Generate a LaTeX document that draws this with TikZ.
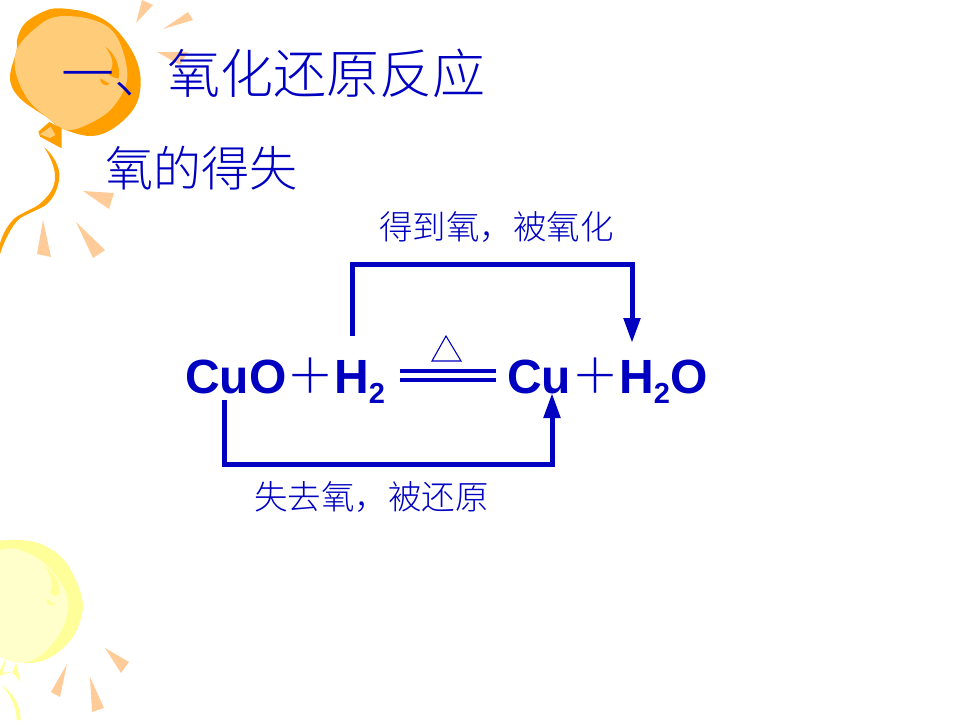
\documentclass[tikz,border=0pt]{standalone}
\usepackage{fontspec}
\setmainfont{Liberation Sans}
\newfontfamily\cjkthin{Noto Sans CJK SC Light}
\usetikzlibrary{arrows.meta}
\definecolor{ink}{HTML}{0000C0}
\definecolor{orangedark}{HTML}{FF9F00}
\definecolor{orangelight}{HTML}{FFCC7A}
\definecolor{ray}{HTML}{FFCC99}
\definecolor{yellowdark}{HTML}{FFFF99}
\definecolor{yellowlight}{HTML}{FFFFCC}
\tikzset{
  x=1pt,y=-1pt,
  titletext/.style={anchor=base west,inner sep=0,text=ink,font=\cjkthin\fontsize{53}{53}\selectfont},
  subtitletext/.style={anchor=base west,inner sep=0,text=ink,font=\cjkthin\fontsize{48}{48}\selectfont},
  notetext/.style={anchor=base west,inner sep=0,text=ink,font=\cjkthin\fontsize{33.5}{33.5}\selectfont},
  formula/.style={anchor=base west,inner sep=0,text=ink,font=\bfseries\fontsize{48}{48}\selectfont},
  plussign/.style={anchor=base west,inner sep=0,text=ink,font=\cjkthin\fontsize{48}{48}\selectfont},
  bracket/.style={draw=ink,line width=5pt,line join=miter,-{Triangle[length=25pt,width=16pt]}},
  bond/.style={draw=ink,line width=4.5pt},
  burst/.style={fill=ray,draw=none},
  fine/.style={x=0.33333pt,y=-0.33333pt}
}
\newcommand{\subtwo}{\raisebox{-10pt}{\fontsize{29}{29}\selectfont 2}}
\begin{document}
\begin{tikzpicture}
\useasboundingbox (0,0) rectangle (960,720);
% orange balloon, traced on a grid three times finer than the page
\begin{scope}[fine]
\fill[orangedark] plot[smooth cycle,tension=0.6] coordinates {(50,150) (52,115) (75,70) (130,35) (180,25)
  (270,40) (340,80) (400,160) (422,240) (405,320) (340,385) (270,408) (185,385) (145,355)
  (60,295) (30,235)};
\fill[orangelight] plot[smooth cycle,tension=0.6] coordinates {(50,150) (100,90) (170,50) (280,60) (350,110)
  (382,230) (340,320) (270,370) (200,390) (145,355) (85,300) (48,220)};
\fill[orangedark] (315,140) .. controls (345,160) and (362,200) .. (356,235)
  .. controls (345,235) and (335,230) .. (325,222)
  .. controls (345,200) and (340,170) .. (315,140) -- cycle;
\fill[orangedark] (300,235) .. controls (310,240) and (320,248) .. (330,252)
  .. controls (315,262) and (300,250) .. (300,235) -- cycle;
% knot and string
\fill[orangedark] (148,366) -- (115,395) -- (120,410) -- (185,445) -- (185,385) -- cycle;
\fill[orangelight] (120,403) -- (152,380) -- (166,405) -- (150,414) -- cycle;
\fill[orangedark] (133,442) .. controls (160,465) and (180,500) .. (178,530)
  .. controls (176,570) and (155,605) .. (130,620)
  .. controls (100,635) and (75,645) .. (60,655)
  .. controls (35,675) and (12,725) .. (0,762)
  -- (0,730) .. controls (10,695) and (30,665) .. (50,650)
  .. controls (75,635) and (100,625) .. (115,615)
  .. controls (145,590) and (166,565) .. (165,530)
  .. controls (165,500) and (150,470) .. (133,442) -- cycle;
\end{scope}
% rays round the orange balloon
\fill[burst] (142,0) -- (153,5) -- (136,23) -- cycle;
\fill[burst] (188,12) -- (193,20) -- (163,29) -- cycle;
\fill[burst] (157,52) -- (188,52) -- (180,65) -- cycle;
\fill[burst] (83,191) -- (114,193) -- (109,209) -- cycle;
\fill[burst] (43,220) -- (51,257) -- (37,254) -- cycle;
\fill[burst] (76,222) -- (105,250) -- (93,258) -- cycle;
% yellow balloon
\begin{scope}[fine,yshift=-530pt]
\fill[yellowdark] plot[smooth,tension=0.6] coordinates {(0,32) (60,30) (130,45) (200,100) (248,215)
  (225,310) (170,370) (110,397) (40,395) (0,380)} -- cycle;
\fill[yellowlight] plot[smooth,tension=0.6] coordinates {(0,60) (50,57) (120,90) (170,140) (205,215)
  (185,300) (130,370) (80,397) (40,395) (0,380)} -- cycle;
\fill[yellowdark] (130,105) .. controls (160,125) and (182,155) .. (178,190)
  .. controls (172,200) and (160,202) .. (150,188)
  .. controls (160,160) and (155,135) .. (130,105) -- cycle;
\fill[yellowdark] (138,207) .. controls (148,212) and (158,218) .. (166,224)
  .. controls (155,232) and (140,225) .. (138,207) -- cycle;
\fill[yellowdark] (18,385) -- (0,420) -- (0,437) -- (35,425) -- (62,455) -- (48,398)
  -- (38,425) -- (10,428) -- cycle;
\fill[yellowdark] (5,465) .. controls (35,485) and (62,520) .. (62,570) -- (50,570)
  .. controls (50,530) and (30,495) .. (5,465) -- cycle;
\end{scope}
% rays round the yellow balloon
\fill[burst] (105,648) -- (129,662) -- (121,673) -- cycle;
\fill[burst] (67,664) -- (60,697) -- (51,692) -- cycle;
\fill[burst] (90,677) -- (104,708) -- (92,712) -- cycle;
% headings
\node[titletext] (heading) at (61,93) {一、氧化还原反应};
\node[subtitletext] (subheading) at (105,186) {氧的得失};
% equation
\node[formula] (cuo) at (185,393) {CuO};
\node[plussign] (plusa) at (286,393.5) {＋};
\node[formula] (htwo) at (334,393) {H\subtwo};
\node[formula] (cu) at (507,393) {Cu};
\node[plussign] (plusb) at (571,393.5) {＋};
\node[formula] (hwater) at (619,393) {H\subtwo O};
% reaction sign with heating mark
\coordinate (bondleft) at (400,371);
\coordinate (bondright) at (496,371);
\coordinate (bondleftlow) at (400,380);
\coordinate (bondrightlow) at (496,380);
\draw[bond] (bondleft) -- (bondright);
\draw[bond] (bondleftlow) -- (bondrightlow);
\coordinate (heatapex) at (446,336);
\coordinate (heatleft) at (432,361);
\coordinate (heatright) at (461,361);
\draw[ink,line width=1.1pt] (heatapex) -- (heatleft) -- (heatright) -- cycle;
% oxygen transfer brackets
\coordinate (upstart) at (352,336);
\coordinate (upcornera) at (352,264);
\coordinate (upcornerb) at (632,264);
\coordinate (uptip) at (632,343);
\draw[bracket] (upstart) -- (upcornera) -- (upcornerb) -- (uptip);
\coordinate (lowstart) at (224,400);
\coordinate (lowcornera) at (224,464);
\coordinate (lowcornerb) at (552,464);
\coordinate (lowtip) at (552,393);
\draw[bracket] (lowstart) -- (lowcornera) -- (lowcornerb) -- (lowtip);
\node[notetext] (gain) at (379,239) {得到氧，被氧化};
\node[notetext] (loss) at (254,509) {失去氧，被还原};
\end{tikzpicture}
\end{document}
